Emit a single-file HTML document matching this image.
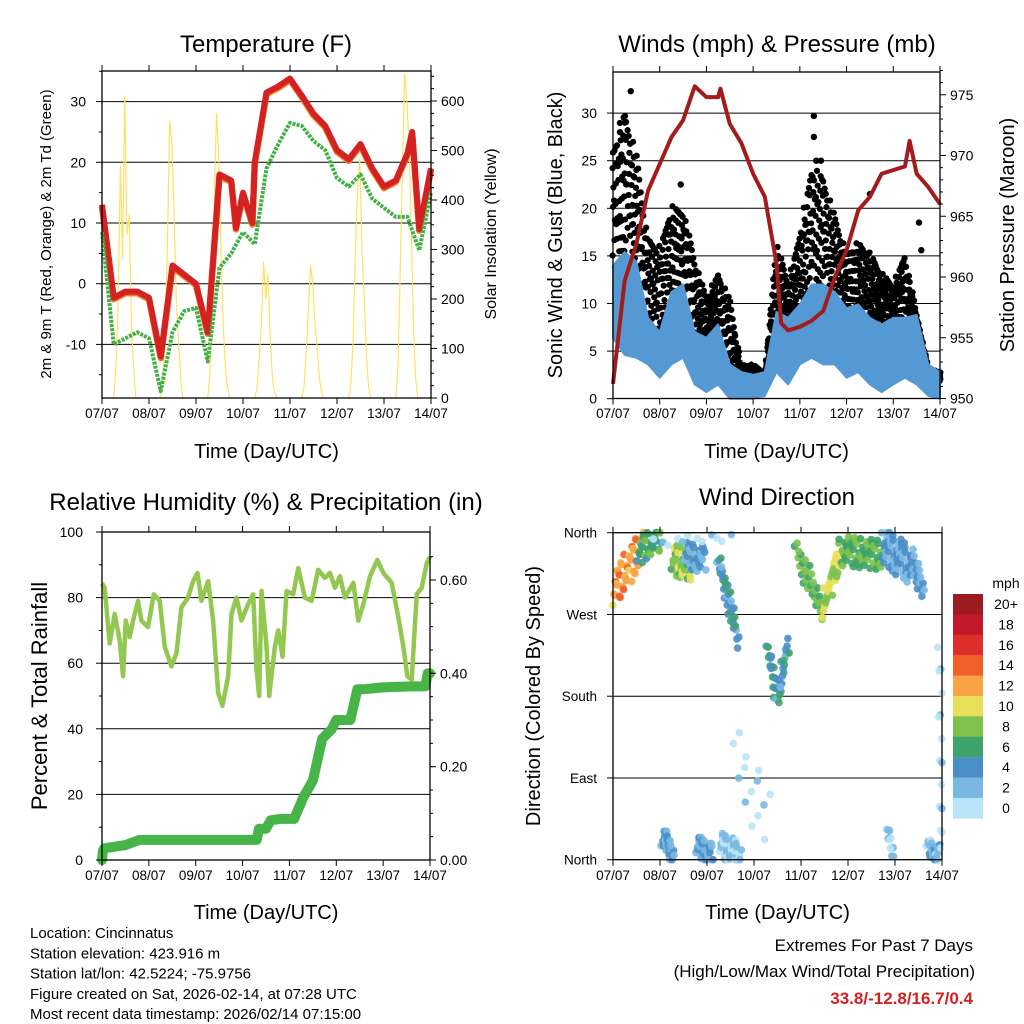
<!DOCTYPE html>
<html><head><meta charset="utf-8"><style>
body{margin:0;background:#fff;width:1024px;height:1024px;overflow:hidden}
svg{display:block;font-family:"Liberation Sans",sans-serif}
</style></head><body>
<svg id="c" width="1024" height="1024" viewBox="0 0 1024 1024"></svg>
<script>
// ---- data ----
const days=["07/07","08/07","09/07","10/07","11/07","12/07","13/07","14/07"];
const tT=[0,0.25,0.5,0.75,1,1.25,1.5,1.75,2,2.25,2.5,2.75,2.85,3,3.2,3.25,3.5,3.75,4,4.25,4.5,4.75,5,5.25,5.5,5.75,6,6.25,6.5,6.6,6.75,7];
const tempRed=[13,-2.3,-1.3,-1.3,-2.3,-12,3,1.5,0,-8,18,17,9.2,15,10,20,31.5,32.5,33.8,31,28,26,22,20.5,23,19,16,17,21.5,25,9,19];
const tD=[0,0.25,0.5,0.75,1,1.25,1.5,1.75,2,2.25,2.5,2.75,3,3.25,3.5,3.75,4,4.25,4.5,4.75,5,5.25,5.5,5.75,6,6.25,6.5,6.75,7];
const dewGreen=[8.5,-10,-9,-8,-9,-17.7,-8,-4.5,-4,-12.8,2.6,5,8.5,6.5,19,23,26.5,26,23.5,22,17.4,16,18,14,12.5,11,11,5.5,15];
const solarDays=[
[0,60,200,470,280,610,330,370,150,60,0],
[0,40,150,300,560,520,380,200,120,40,0],
[0,50,180,420,576,480,300,150,60,20,0],
[0,20,80,150,275,200,250,120,40,10,0],
[0,20,90,180,270,230,150,100,40,10,0],
[0,30,120,300,420,484,300,200,90,20,0],
[0,60,250,450,656,600,520,350,150,40,0]];
const tW=[0,0.25,0.5,0.75,1,1.25,1.5,1.75,2,2.25,2.5,2.75,3,3.25,3.5,3.75,4,4.25,4.5,4.75,5,5.25,5.5,5.75,6,6.25,6.5,6.75,7];
const windHi=[14,15.4,14.4,8.5,7,11.2,12,7,6.4,7.8,3.6,2.8,2.5,2.8,9.1,8.5,9.9,12,12,11.2,9.5,9.9,8.5,7.8,8.5,8.5,8.8,3.6,2.8];
const windLo=[6.4,4.6,4.3,3.6,2.2,3.6,4.3,1.5,0.7,1.5,0,0,0,0.3,2.8,1.5,3.6,4.3,3.6,3.6,2.2,2.8,1.5,0.7,1.5,2.2,1.5,0.3,0];
const gustHi=[26.6,30.5,25.9,16.9,16.1,20.3,20,14.8,10.6,13.3,10.6,3.6,3.6,2.8,16.5,12.3,17.5,24.5,23.5,19.3,15.4,16.5,15.4,13.3,12,15.4,8.8,3.2,2.8];
const gustOutT=[0.38,0.25,0.15,1.45,4.3,4.3,4.35,4.45,6.55,6.6,5.5];
const gustOutV=[32.3,29,28,22.5,29.7,27.5,25,25,18.5,15.6,21.5];
const tP=[0,0.25,0.5,0.75,1,1.25,1.5,1.75,2,2.25,2.3,2.5,2.75,3,3.25,3.5,3.6,3.75,4,4.25,4.5,4.75,5,5.25,5.5,5.75,6,6.25,6.35,6.5,6.75,7];
const pressure=[951.2,959.7,962.7,967.1,969.3,971.5,972.9,975.7,974.8,974.8,975.5,972.6,971,968.5,966.6,961.1,956.2,955.6,955.9,956.4,957.2,960,962.2,965.5,966.6,968.5,968.8,969.1,971.2,968.5,967.4,966];
const rhX=[307,315,322,330,345,360,370,378,390,400,415,425,445,462,480,495,515,530,545,565,580,593,605,625,640,655,668,685,695,710,725,745,760,770,778,785,800,808,825,835,848,860,880,895,915,935,955,975,990,1005,1020,1035,1060,1075,1090,1110,1132,1150,1175,1195,1210,1222,1235,1250,1265,1280,1290];
const rhVals=[84.4,83,75,66,75,67,56,73,68,73,79,73,71,81,79,65,59,63,77,80,85,87.5,79,85,73,51,47,56,75,80,73,78,81,58,50,82,65,50,65,70,62,82,81,89,80,79,88.5,86,87.5,83,86.5,80,84.5,73,78,86.5,91.5,87.5,84.5,74,65,56,55,81,83,90.5,92.5];
const tR=[0,0.02,0.05,0.5,0.8,3.3,3.35,3.5,3.6,3.8,4.1,4.3,4.5,4.7,4.9,5.0,5.3,5.45,5.6,6.0,6.6,6.9,6.95,7];
const precip=[0,0.02,0.025,0.032,0.043,0.043,0.067,0.067,0.085,0.088,0.088,0.135,0.17,0.26,0.28,0.30,0.30,0.366,0.366,0.37,0.372,0.372,0.40,0.40];
// wind direction clusters
const clT0=[0.02,0.55,1.28,1.55,2.25,3.3,3.5,3.9,4.45,4.85,5.75,6.3,1.06,1.8,2.3,5.85,6.7,2.6,6.95,0.9];
const clT1=[0.62,1.0,1.65,1.95,2.65,3.5,3.72,4.45,4.85,5.75,6.3,6.6,1.28,2.1,2.7,5.95,6.95,3.3,7.0,2.5];
const clD0=[298,340,330,335,330,235,175,340,275,340,345,330,25,15,15,35,15,120,230,350];
const clD1=[345,355,325,330,245,175,240,275,340,335,325,300,5,5,5,5,5,40,20,355];
const clSpr=[18,14,17,14,12,9,9,13,13,16,20,16,12,12,14,8,10,40,10,5];
const clSpd=[13,7,9,4,5,6,5,8,10,7.5,4,4,4,3.5,2,2,3,1,1,1];
const clN=[60,40,40,30,35,20,20,30,30,60,55,22,22,35,45,12,22,14,14,12];
const cbLabels=["20+","18","16","14","12","10","8","6","4","2","0"];
const cbColors=["#9b1b1e","#c0192a","#dd2e2a","#f06028","#f9a446","#e8e05a","#7cc24c","#3ea36a","#4a8fc8","#7ab8e4","#b8e4f8"];

const NS="http://www.w3.org/2000/svg";
const svg=document.getElementById('c');
function mk(tag,at,par){const e=document.createElementNS(NS,tag);for(const k in at)e.setAttribute(k,at[k]);(par||svg).appendChild(e);return e;}
function txt(s,x,y,size,anchor,extra,par){const e=mk('text',Object.assign({x:x,y:y,'font-size':size,'text-anchor':anchor||'middle',fill:'#000'},extra||{}),par);e.textContent=s;return e;}
function interp(ts,vs,t){if(t<=ts[0])return vs[0];for(let i=1;i<ts.length;i++){if(t<=ts[i]){const f=(t-ts[i-1])/(ts[i]-ts[i-1]);return vs[i-1]+f*(vs[i]-vs[i-1]);}}return vs[vs.length-1];}

function frame(name){
  const g=mk('g',{});
  
  
  return g;
}
function box(g,x0,x1,y0,y1){const r=mk('rect',{x:x0,y:y0,width:x1-x0,height:y1-y0,fill:'none',stroke:'#000','stroke-width':1.3},g);}
function xaxis(g,x0,x1,y0,y1,labY,titleY){
  const ax=mk('g',{},g);
  
  
  for(let i=0;i<days.length;i++){const x=x0+(x1-x0)*i/7;
    mk('line',{x1:x,x2:x,y1:y1,y2:y1+6,stroke:'#000'},ax);mk('line',{x1:x,x2:x,y1:y0,y2:y0-6,stroke:'#000'},ax);
    const l=txt(days[i],x,labY,13.5,'middle',{},ax);}
  const t=txt('Time (Day/UTC)',(x0+x1)/2,titleY,20,'middle',{},ax);
  
  
}
function hgrid(g,x0,x1,ys){for(const y of ys){const l=mk('line',{x1:x0,x2:x1,y1:y,y2:y,stroke:'#000','stroke-width':1},g);}}
function vtitle(g,s,x,y,size,name){const t=txt(s,x,y,size,'middle',{transform:`rotate(-90 ${x} ${y})`},g);}

// ===== Panel 1: temperature =====
{
const X0=102,X1=431,Y0=71,Y1=398;
const xs=t=>X0+(X1-X0)*t/7, yT=v=>283.7-v*6.07, yS=v=>398-v*0.495;
const g=frame('temperature-panel');
txt('Temperature (F)',266,52,24,'middle',{},g);
hgrid(g,X0,X1,[30,20,10,0,-10].map(yT));
for(let d=0;d<solarDays.length;d++){const vals=solarDays[d];let pts=[];for(let i=0;i<vals.length;i++){pts.push(xs(d+0.25+i*0.047)+','+yS(vals[i]));}
 const p=mk('polyline',{points:pts.join(' '),fill:'none',stroke:'#ffe066','stroke-width':1.2},g);}
let pr=tempRed.map((v,i)=>xs(tT[i])+','+yT(v)).join(' ');
let o=mk('polyline',{points:tempRed.map((v,i)=>xs(tT[i])+','+(yT(v)+1.5)).join(' '),fill:'none',stroke:'#f07a22','stroke-width':6.5,'stroke-linejoin':'round'},g);

let r=mk('polyline',{points:pr,fill:'none',stroke:'#d42222','stroke-width':6,'stroke-linejoin':'round'},g);

let gr=mk('polyline',{points:dewGreen.map((v,i)=>xs(tD[i])+','+yT(v)).join(' '),fill:'none',stroke:'#44b044','stroke-width':4,'stroke-dasharray':'3 1.2','stroke-linejoin':'round'},g);

box(g,X0,X1,Y0,Y1);
const ly=mk('g',{},g);
for(const v of [30,20,10,0,-10]){mk('line',{x1:X0-6,x2:X0,y1:yT(v),y2:yT(v),stroke:'#000'},ly);txt(String(v),86,yT(v)+5,14,'end',{},ly);}
for(let v=-15;v<=35;v+=5){if(v%10)mk('line',{x1:X0-3,x2:X0,y1:yT(v),y2:yT(v),stroke:'#000'},ly);}
const ry=mk('g',{},g);
for(let v=0;v<=600;v+=100){mk('line',{x1:X1,x2:X1+6,y1:yS(v),y2:yS(v),stroke:'#000'},ry);txt(String(v),441,yS(v)+5,14,'start',{},ry);}
for(let v=25;v<=650;v+=25){if(v%100)mk('line',{x1:X1,x2:X1+3,y1:yS(v),y2:yS(v),stroke:'#000'},ry);}
xaxis(g,X0,X1,Y0,Y1,418,458);
vtitle(g,'2m & 9m T (Red, Orange) & 2m Td (Green)',51,234,15,'y-axis-title-left');
vtitle(g,'Solar Insolation (Yellow)',496,234,16,'y-axis-title-right');
}
// ===== Panel 2: winds =====
{
const X0=613,X1=940,Y0=72,Y1=398.5;
const xs=t=>X0+(X1-X0)*t/7, yW=v=>398.7-v*9.52, yP=v=>398.5-(v-950)*12.15;
const g=frame('winds-panel');
txt('Winds (mph) & Pressure (mb)',777,52,24,'middle',{},g);
hgrid(g,X0,X1,[5,10,15,20,25,30].map(yW));
const gd=mk('g',{fill:'#000'},g);
const fr=[0.15,0.35,0.55,0.75,0.92];
for(let s=0;s<=224;s++){const t=s*7/224;const hi=interp(tW,gustHi,t),lo=interp(tW,windHi,t)-1;
 for(let k=0;k<fr.length;k++){const f=(fr[k]+((s*13+k*7)%9)/40)%1;const v=lo+(hi-lo)*f;
  mk('circle',{cx:xs(t+((s+k)%3-1)*0.008),cy:yW(v),r:3.1},gd);}}
for(let i=0;i<gustOutT.length;i++)mk('circle',{cx:xs(gustOutT[i]),cy:yW(gustOutV[i]),r:3.2},gd);
let top=tW.map((t,i)=>xs(t)+','+yW(windHi[i]));let bot=tW.map((t,i)=>xs(t)+','+yW(windLo[i])).reverse();
const wb=mk('polygon',{points:top.concat(bot).join(' '),fill:'#5599d4',stroke:'#5599d4','stroke-width':2,'stroke-linejoin':'round'},g);

const pl=mk('polyline',{points:pressure.map((v,i)=>xs(tP[i])+','+yP(v)).join(' '),fill:'none',stroke:'#a31c1c','stroke-width':4,'stroke-linejoin':'round'},g);

box(g,X0,X1,Y0,Y1);
const ly=mk('g',{},g);
for(let v=0;v<=30;v+=5){mk('line',{x1:X0-6,x2:X0,y1:yW(v),y2:yW(v),stroke:'#000'},ly);txt(String(v),597,yW(v)+5,14,'end',{},ly);}
const ry=mk('g',{},g);
for(let v=950;v<=975;v+=5){mk('line',{x1:X1,x2:X1+6,y1:yP(v),y2:yP(v),stroke:'#000'},ry);txt(String(v),950,yP(v)+5,14,'start',{},ry);}
for(let v=951;v<=977;v++){if(v%5)mk('line',{x1:X1,x2:X1+3,y1:yP(v),y2:yP(v),stroke:'#000'},ry);}
xaxis(g,X0,X1,Y0,Y1,418,458);
vtitle(g,'Sonic Wind & Gust (Blue, Black)',562,235,20,'y-axis-title-left');
vtitle(g,'Station Pressure (Maroon)',1014,235,20,'y-axis-title-right');
}
// ===== Panel 3: RH & precip =====
{
const X0=102,X1=430,Y0=532,Y1=860;
const xs=t=>X0+(X1-X0)*t/7, yH=v=>860-v*3.28, yR=v=>860-v*466.7;
const g=frame('humidity-precip-panel');
txt('Relative Humidity (%) & Precipitation (in)',266,510,24,'middle',{},g);
hgrid(g,X0,X1,[20,40,60,80].map(yH));
const rl=mk('polyline',{points:rhVals.map((v,i)=>xs((rhX[i]-307)/140.4)+','+yH(v)).join(' '),fill:'none',stroke:'#92c850','stroke-width':4.5,'stroke-linejoin':'round'},g);

const pp=mk('polyline',{points:precip.map((v,i)=>xs(tR[i])+','+yR(v)).join(' '),fill:'none',stroke:'#46b446','stroke-width':10,'stroke-linejoin':'round','stroke-linecap':'round'},g);

box(g,X0,X1,Y0,Y1);
const ly=mk('g',{},g);
for(let v=0;v<=100;v+=20){mk('line',{x1:X0-6,x2:X0,y1:yH(v),y2:yH(v),stroke:'#000'},ly);txt(String(v),83,yH(v)+5,14,'end',{},ly);}
for(let v=10;v<100;v+=20)mk('line',{x1:X0-3,x2:X0,y1:yH(v),y2:yH(v),stroke:'#000'},ly);
const ry=mk('g',{},g);
for(let v=0;v<=0.6001;v+=0.2){mk('line',{x1:X1,x2:X1+6,y1:yR(v),y2:yR(v),stroke:'#000'},ry);txt(v.toFixed(2),440,yR(v)+5,14,'start',{},ry);}
for(let v=0.05;v<0.7;v+=0.05)mk('line',{x1:X1,x2:X1+3,y1:yR(v),y2:yR(v),stroke:'#000'},ry);
xaxis(g,X0,X1,Y0,Y1,880,919);
vtitle(g,'Percent & Total Rainfall',47,696,22,'y-axis-title-left');
}
// ===== Panel 4: wind direction =====
{
const X0=613,X1=942,Y0=532.7,Y1=859.7;
const xs=t=>X0+(X1-X0)*t/7, yD=d=>Y1-d/360*(Y1-Y0);
const g=frame('wind-direction-panel');
txt('Wind Direction',777,505,24,'middle',{},g);
hgrid(g,X0,X1,[270,180,90].map(yD));
const pts=mk('g',{'fill-opacity':0.9},g);
for(let c=0;c<clT0.length;c++){const n=clN[c];for(let i=0;i<n;i++){const f=n>1?i/(n-1):0;
 const t=Math.max(0,Math.min(7,clT0[c]+(clT1[c]-clT0[c])*f+(((i*3)%5)-2)*0.02));
 let d=clD0[c]+(clD1[c]-clD0[c])*f+clSpr[c]*((((i*7+c)%11)/10)-0.5)*2;d=Math.max(0,Math.min(360,d));
 let sp=clSpd[c]+((((i*5)%7)/6)-0.5)*3;if(sp<0)sp=0;const ci=Math.max(0,Math.min(10,10-Math.floor(sp/2)));
 mk('circle',{cx:xs(t),cy:yD(d),r:3.8,fill:cbColors[ci]},pts);}}
box(g,X0,X1,Y0,Y1);
const ly=mk('g',{},g);
const dn=['North','West','South','East','North'],dv=[360,270,180,90,0];
for(let i=0;i<5;i++){mk('line',{x1:X0-6,x2:X0,y1:yD(dv[i]),y2:yD(dv[i]),stroke:'#000'},ly);txt(dn[i],597,yD(dv[i])+5,13.5,'end',{},ly);}
xaxis(g,X0,X1,Y0,Y1,880,919);
vtitle(g,'Direction (Colored By Speed)',540,696,20,'y-axis-title-left');
const cb=mk('g',{},g);
txt('mph',1006,588,14,'middle',{},cb);
for(let i=0;i<cbColors.length;i++){const y=594+i*20.4;mk('rect',{x:953,y:y,width:30,height:20.6,fill:cbColors[i]},cb);
 const l=txt(cbLabels[i],1006,y+15,14,'middle',{},cb);}
}
// ===== footer text =====
{
const g=frame('station-info');
const lines=['Location: Cincinnatus','Station elevation: 423.916 m','Station lat/lon: 42.5224; -75.9756','Figure created on Sat, 2026-02-14, at 07:28 UTC','Most recent data timestamp: 2026/02/14 07:15:00'];
lines.forEach((s,i)=>txt(s,30,938+i*20.3,15,'start',{},g));
const e=frame('extremes-summary');
txt('Extremes For Past 7 Days',973,951,17,'end',{},e);
txt('(High/Low/Max Wind/Total Precipitation)',975,977,17,'end',{},e);
txt('33.8/-12.8/16.7/0.4',973,1004,17,'end',{fill:'#d42020','font-weight':'bold'},e);
}
</script>
</body></html>
